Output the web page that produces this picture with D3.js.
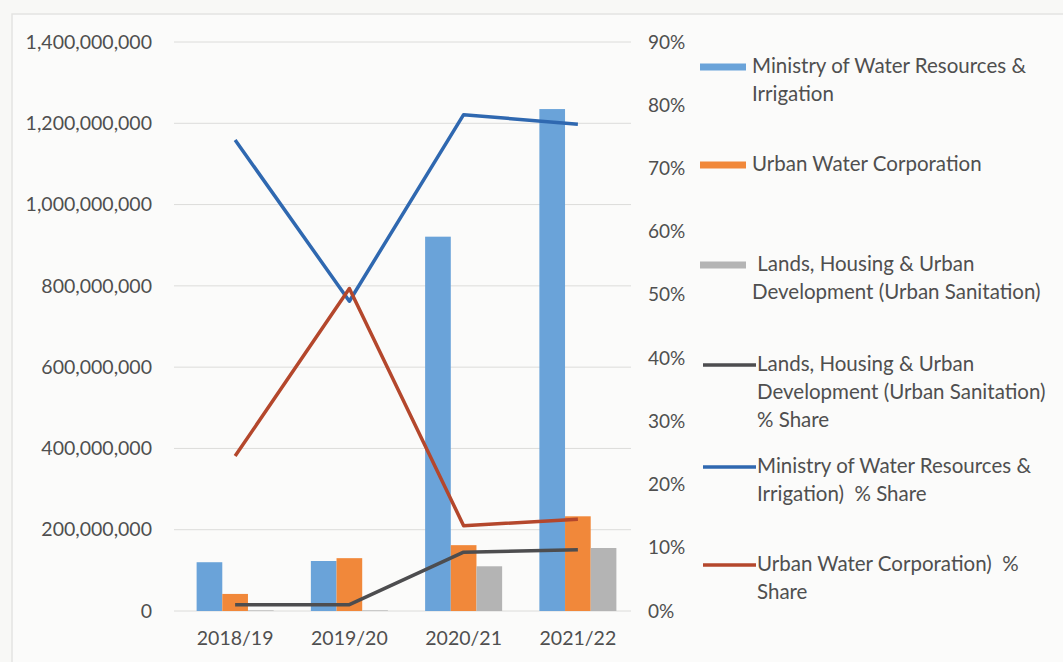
<!DOCTYPE html>
<html><head><meta charset="utf-8">
<script src="https://cdn.jsdelivr.net/npm/d3@7"></script>
<style>
html,body{margin:0;padding:0;background:#f8f8f6;}
svg{display:block;}
text{font-family:Lato,"Open Sans",sans-serif;fill:#4f4f4f;white-space:pre;}
</style></head><body>
<svg id="c" width="1063" height="662"></svg>
<script>
const categories = ["2018/19","2019/20","2020/21","2021/22"];
const ministryValues = [120000000,123000000,921000000,1235000000];
const uwcValues = [42000000,130000000,162000000,233000000];
const landsValues = [1500000,1500000,110000000,155000000];
const landsShare = [0.01,0.01,0.093,0.097];
const ministryShare = [0.745,0.49,0.785,0.77];
const uwcShare = [0.245,0.51,0.135,0.145];
const leftTicks = [0,200000000,400000000,600000000,800000000,1000000000,1200000000,1400000000];
const rightTicks = [0,0.1,0.2,0.3,0.4,0.5,0.6,0.7,0.8,0.9];

const barSeries = [
  {name:"Ministry of Water Resources & Irrigation", values:ministryValues, color:"#6aa3d9",
   legend:["Ministry of Water Resources &","Irrigation"]},
  {name:"Urban Water Corporation", values:uwcValues, color:"#f1883a",
   legend:["Urban Water Corporation"]},
  {name:"Lands, Housing & Urban Development (Urban Sanitation)", values:landsValues, color:"#b4b4b4",
   legend:[" Lands, Housing & Urban","Development (Urban Sanitation)"]}
];
const lineSeries = [
  {values:landsShare, color:"#4d4d4f", legend:["Lands, Housing & Urban","Development (Urban Sanitation)","% Share"]},
  {values:ministryShare, color:"#2f68b0", legend:["Ministry of Water Resources &","Irrigation)  % Share"]},
  {values:uwcShare, color:"#b4472c", legend:["Urban Water Corporation)  %","Share"]}
];

(function(){
const svg = d3.select("#c");
svg.append("rect").attr("x",12).attr("y",14).attr("width",1060).attr("height",660)
  .attr("fill","#fbfbfa").attr("stroke","#e4e4e2").attr("stroke-width",1.5);

const plotTop = 42, plotBottom = 611, gx0 = 174, gx1 = 631;
const x = d3.scaleBand().domain(categories).range([178,635]).paddingInner(0.326).paddingOuter(0.163);
const xs = d3.scaleBand().domain(d3.range(barSeries.length)).range([0,x.bandwidth()]);
const yL = d3.scaleLinear().domain([0,1400000000]).range([plotBottom,plotTop]);
const yR = d3.scaleLinear().domain([0,0.9]).range([plotBottom,plotTop]);

svg.append("g").selectAll("line").data(leftTicks).join("line")
  .attr("x1",gx0).attr("x2",gx1).attr("y1",d=>yL(d)).attr("y2",d=>yL(d))
  .attr("stroke","#dcdcda").attr("stroke-width",1);

const axL = d3.axisLeft(yL).tickValues(leftTicks).tickFormat(d3.format(",")).tickSize(0).tickPadding(0);
const gL = svg.append("g").attr("transform","translate(152,0)").call(axL);
gL.select(".domain").remove();
gL.selectAll("text").style("font-size","19.5px").attr("fill","#4f4f4f");

const axR = d3.axisRight(yR).tickValues(rightTicks).tickFormat(d3.format(".0%")).tickSize(0).tickPadding(0);
const gR = svg.append("g").attr("transform","translate(648,0)").call(axR);
gR.select(".domain").remove();
gR.selectAll("text").style("font-size","19px").attr("fill","#4f4f4f");

const axX = d3.axisBottom(x).tickSize(0).tickPadding(0);
const gX = svg.append("g").attr("transform",`translate(0,${plotBottom+20})`).call(axX);
gX.select(".domain").remove();
gX.selectAll("text").style("font-size","19.5px").attr("fill","#4f4f4f");

barSeries.forEach((s,i)=>{
  svg.append("g").selectAll("rect").data(s.values).join("rect")
    .attr("x",(d,j)=>x(categories[j])+xs(i))
    .attr("width",xs.bandwidth())
    .attr("y",d=>yL(d)).attr("height",d=>plotBottom-yL(d))
    .attr("fill",s.color);
});

const line = d3.line().x((d,j)=>x(categories[j])+x.bandwidth()/2).y(d=>yR(d));
lineSeries.forEach(s=>{
  svg.append("path").datum(s.values).attr("d",line)
    .attr("fill","none").attr("stroke",s.color).attr("stroke-width",3.5)
    .attr("stroke-linejoin","round");
});

const lg = svg.append("g");
const barLeg = [67,165,265];
barSeries.forEach((s,i)=>{
  const yy = barLeg[i];
  lg.append("rect").attr("x",700).attr("y",yy-3.5).attr("width",46).attr("height",7).attr("fill",s.color);
  s.legend.forEach((t,k)=>{
    lg.append("text").attr("x",752).attr("y",yy+6+k*28).style("font-size","20.5px").text(t);
  });
});
const lineLeg = [365,467,565];
lineSeries.forEach((s,i)=>{
  const yy = lineLeg[i];
  lg.append("line").attr("x1",703).attr("x2",756).attr("y1",yy).attr("y2",yy)
    .attr("stroke",s.color).attr("stroke-width",3.5);
  s.legend.forEach((t,k)=>{
    lg.append("text").attr("x",757).attr("y",yy+6+k*28).style("font-size","20.5px").text(t);
  });
});
})();
</script>
</body></html>
